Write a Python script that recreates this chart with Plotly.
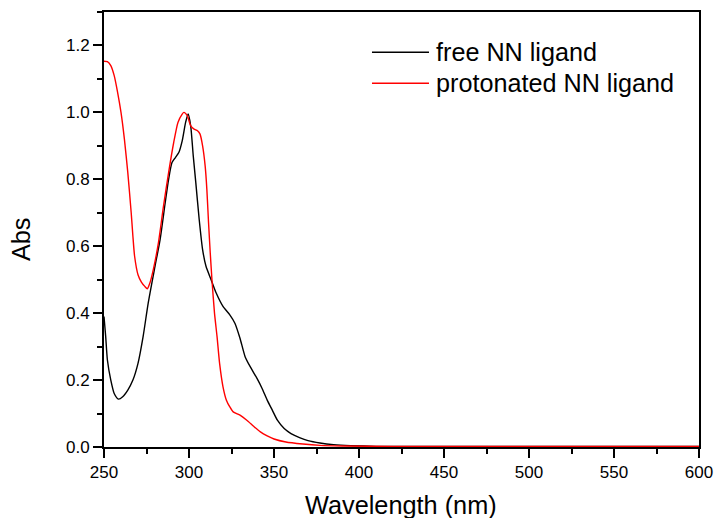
import plotly.graph_objects as go

# ---- data ----
free_wl = [250, 251, 252, 254, 256, 258.5, 261, 264, 267, 270, 273, 276, 280, 283, 286, 288,
           290, 292, 294, 296, 298, 299.5, 301, 302.5, 304, 306, 308, 310, 313, 316, 320,
           324, 327, 330, 333, 336, 340, 343, 346, 349, 352, 356, 360, 365, 370, 377, 385,
           395, 410, 450, 500, 550, 600]
free_abs = [0.39, 0.33, 0.26, 0.20, 0.16, 0.143, 0.15, 0.17, 0.20, 0.25, 0.33, 0.43, 0.54, 0.62,
            0.73, 0.80, 0.85, 0.865, 0.88, 0.915, 0.97, 0.995, 0.96, 0.87, 0.79, 0.68, 0.59,
            0.54, 0.50, 0.46, 0.42, 0.395, 0.37, 0.325, 0.27, 0.24, 0.205, 0.175, 0.14, 0.11,
            0.08, 0.055, 0.04, 0.028, 0.019, 0.012, 0.007, 0.004, 0.002, 0.0015, 0.0015, 0.0015, 0.0015]

prot_wl = [250, 252, 254, 256, 258, 260, 262, 264, 266, 267, 268, 270, 272, 274, 275.5, 277, 279,
           282, 285, 288, 291, 293.5, 296, 297, 299, 301, 303, 305, 306.5, 308, 309.5, 310.5,
           311.5, 312.5, 313.5, 315, 316.5, 318, 320, 322, 324, 326, 330, 334, 338, 342, 346,
           350, 357, 367, 377, 390, 420, 500, 600]
prot_abs = [1.153, 1.152, 1.14, 1.11, 1.06, 1.00, 0.92, 0.82, 0.70, 0.63, 0.57, 0.515, 0.493, 0.48,
            0.473, 0.49, 0.53, 0.61, 0.72, 0.82, 0.91, 0.97, 0.995, 1.0, 0.99, 0.96, 0.95, 0.945,
            0.935, 0.90, 0.84, 0.77, 0.67, 0.58, 0.50, 0.40, 0.33, 0.25, 0.18, 0.14, 0.12,
            0.105, 0.095, 0.08, 0.062, 0.045, 0.033, 0.024, 0.015, 0.009, 0.005, 0.003, 0.0015,
            0.0015, 0.0015]

series_names = ["free NN ligand", "protonated NN ligand"]
series_colors = ["#000000", "#ff0000"]

x_ticks = [250, 300, 350, 400, 450, 500, 550, 600]
y_ticks = [0.0, 0.2, 0.4, 0.6, 0.8, 1.0, 1.2]

x_title = "Wavelength (nm)"
y_title = "Abs"

FONT = "Liberation Sans, Arial, sans-serif"

fig = go.Figure()
for wl, ab, name, col in [(free_wl, free_abs, series_names[0], series_colors[0]),
                          (prot_wl, prot_abs, series_names[1], series_colors[1])]:
    fig.add_trace(go.Scatter(x=wl, y=ab, mode="lines", name=name,
                             line=dict(color=col, width=1.4, shape="spline", smoothing=0.6),
                             showlegend=False))

# manual legend (sample lines + labels)
leg_y = [0.9074, 0.8361]
for i in range(2):
    fig.add_shape(type="line", xref="paper", yref="paper",
                  x0=0.4504, x1=0.5462, y0=leg_y[i], y1=leg_y[i],
                  line=dict(color=series_colors[i], width=1.4))
    fig.add_annotation(xref="paper", yref="paper", x=0.5545, y=leg_y[i],
                       text=series_names[i], showarrow=False, xanchor="left",
                       yanchor="middle", font=dict(family=FONT, size=25.2, color="black"))

# axis titles
fig.add_annotation(xref="paper", yref="paper", x=0.499, y=-0.1333, text=x_title,
                   showarrow=False, xanchor="center", yanchor="middle",
                   font=dict(family=FONT, size=25.3, color="black"))
fig.add_annotation(xref="paper", yref="paper", x=-0.1395, y=0.478, text=y_title,
                   showarrow=False, xanchor="center", yanchor="middle", textangle=-90,
                   font=dict(family=FONT, size=25.3, color="black"))

axis_common = dict(showline=True, linecolor="black", linewidth=2, mirror=True,
                   showgrid=False, zeroline=False, ticks="outside", ticklen=9,
                   tickwidth=2, tickcolor="black", automargin=False,
                   tickfont=dict(family=FONT, size=17, color="black"),
                   layer="below traces")

fig.update_xaxes(range=[250, 600], tickvals=x_ticks,
                 minor=dict(ticks="outside", ticklen=5, tickwidth=2, tickcolor="black", dtick=25,
                            tick0=250),
                 **axis_common)
fig.update_yaxes(range=[0, 1.3], tickvals=y_ticks, tickformat=".1f",
                 minor=dict(ticks="outside", ticklen=5, tickwidth=2, tickcolor="black", dtick=0.1,
                            tick0=0),
                 **axis_common)

fig.update_layout(width=717, height=518,
                  margin=dict(l=104, r=18, t=12, b=71, pad=0),
                  paper_bgcolor="white", plot_bgcolor="white",
                  font=dict(family=FONT, color="black"))

fig.write_html("out.html")
